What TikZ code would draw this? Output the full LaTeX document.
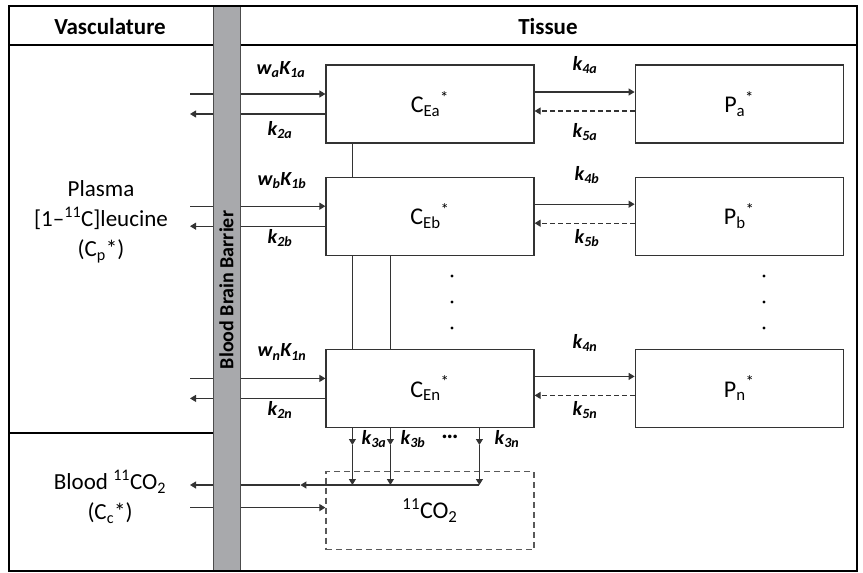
\documentclass[tikz,border=0pt]{standalone}
\usepackage{fontspec}
\setmainfont{Carlito}
\usetikzlibrary{positioning,arrows.meta,calc}
\definecolor{bbbgray}{HTML}{A8A9AC}
\definecolor{boxline}{HTML}{333333}

\begin{document}
\begin{tikzpicture}[
  x=1pt, y=-1pt,
  node distance=33pt,
  blk/.style={draw=boxline, line width=1.2pt, minimum height=78pt, minimum width=208pt,
              inner sep=0pt, font=\fontsize{24}{28}\selectfont},
  lbl/.style={font=\fontsize{20}{22}\selectfont\bfseries\itshape},
  txt/.style={font=\fontsize{23}{30}\selectfont, align=center},
  hdr/.style={font=\fontsize{23}{26}\selectfont\bfseries},
  flow/.style={->, line width=1.1pt, draw=boxline},
  back/.style={flow, dash pattern=on 5pt off 3pt},
  conn/.style={line width=1.1pt, draw=boxline},
  >={Triangle[length=6pt,width=7pt]}
]
\useasboundingbox (0,0) rectangle (863,573);

\node[blk] (ea) at (430,104) {C\textsubscript{Ea}\textsuperscript{*}};
\node[blk, right=100pt of ea] (pa) {P\textsubscript{a}\textsuperscript{*}};
\node[blk, below=33pt of ea] (eb) {C\textsubscript{Eb}\textsuperscript{*}};
\node[blk, right=100pt of eb] (pb) {P\textsubscript{b}\textsuperscript{*}};
\node[blk, below=93pt of eb] (en) {C\textsubscript{En}\textsuperscript{*}};
\node[blk, right=100pt of en] (pn) {P\textsubscript{n}\textsuperscript{*}};
\node[blk, draw=black!65, dash pattern=on 6pt off 4pt, below=43pt of en] (co2) {\textsuperscript{11}CO\textsubscript{2}};

\coordinate (lft) at (190,0);

% exchange with plasma
\draw[flow] ($(lft |- ea.west)+(0,-10)$) -- ($(ea.west)+(0,-10)$);
\draw[flow] ($(ea.west)+(0,10)$) -- ($(lft |- ea.west)+(0,10)$);
\draw[flow] ($(lft |- eb.west)+(0,-10)$) -- ($(eb.west)+(0,-10)$);
\draw[flow] ($(eb.west)+(0,10)$) -- ($(lft |- eb.west)+(0,10)$);
\draw[flow] ($(lft |- en.west)+(0,-10)$) -- ($(en.west)+(0,-10)$);
\draw[flow] ($(en.west)+(0,10)$) -- ($(lft |- en.west)+(0,10)$);

% incorporation into protein
\draw[flow] ($(ea.east)+(0,-12)$) -- ($(pa.west)+(0,-12)$);
\draw[back] ($(pa.west)+(0,7)$) -- ($(ea.east)+(0,7)$);
\draw[flow] ($(eb.east)+(0,-12)$) -- ($(pb.west)+(0,-12)$);
\draw[back] ($(pb.west)+(0,7)$) -- ($(eb.east)+(0,7)$);
\draw[flow] ($(en.east)+(0,-12)$) -- ($(pn.west)+(0,-12)$);
\draw[back] ($(pn.west)+(0,7)$) -- ($(en.east)+(0,7)$);

\draw[conn] ($(ea.south west)+(27,0)$) -- ($(eb.north west)+(27,0)$);
\draw[conn] ($(eb.south west)+(27,0)$) -- ($(en.north west)+(27,0)$);
\draw[conn] ($(eb.south west)+(65,0)$) -- ($(en.north west)+(65,0)$);

% oxidation to CO2
\draw[flow] ($(en.south west)+(27,0)$) -- ($(en.south west)+(27,17)$);
\draw[flow] ($(en.south west)+(27,17)$) -- ($(co2.north west)+(27,14)$);
\draw[flow] ($(en.south west)+(65,0)$) -- ($(en.south west)+(65,17)$);
\draw[flow] ($(en.south west)+(65,17)$) -- ($(co2.north west)+(65,14)$);
\draw[flow] ($(en.south west)+(154,0)$) -- ($(en.south west)+(154,17)$);
\draw[flow] ($(en.south west)+(154,17)$) -- ($(co2.north west)+(154,14)$);
\draw[flow] ($(co2.north west)+(154,14)$) -- ($(co2.north west)+(-25,14)$);
\draw[flow] ($(co2.north west)+(-25,14)$) -- ($(lft |- co2.north)+(0,14)$);
\draw[flow] ($(lft |- co2.west)+(0,-3)$) -- ($(co2.west)+(0,-3)$);

\fill (452,276) circle (1.6) (452,302) circle (1.6) (452,328) circle (1.6);
\fill (764,276) circle (1.6) (764,302) circle (1.6) (764,328) circle (1.6);

\node[lbl] at (281,70) {w\textsubscript{a}K\textsubscript{1a}};
\node[lbl] at (280,130) {k\textsubscript{2a}};
\node[lbl] at (282,181) {w\textsubscript{b}K\textsubscript{1b}};
\node[lbl] at (280,238) {k\textsubscript{2b}};
\node[lbl] at (282,352) {w\textsubscript{n}K\textsubscript{1n}};
\node[lbl] at (280,410) {k\textsubscript{2n}};
\node[lbl] at (585,65) {k\textsubscript{4a}};
\node[lbl] at (585,132) {k\textsubscript{5a}};
\node[lbl] at (587,175) {k\textsubscript{4b}};
\node[lbl] at (587,238) {k\textsubscript{5b}};
\node[lbl] at (585,343) {k\textsubscript{4n}};
\node[lbl] at (585,410) {k\textsubscript{5n}};
\node[lbl] at (374,439) {k\textsubscript{3a}};
\node[lbl] at (413,439) {k\textsubscript{3b}};
\node[lbl, font=\fontsize{24}{24}\selectfont\bfseries] at (450,437) {…};
\node[lbl] at (507,439) {k\textsubscript{3n}};

\draw[line width=2pt] (9,45) -- (857,45);
\draw[line width=2pt] (9,433) -- (213,433);
\draw[draw=black!70, fill=bbbgray, line width=1pt] (213,6) rectangle (240,571);
\node[rotate=90, font=\fontsize{20}{22}\selectfont\bfseries] (bbb) at (226.5,290) {Blood Brain Barrier};
\draw[line width=2.4pt] (9,6) rectangle (857,571);

\node[hdr] (vasc) at (110,27) {Vasculature};
\node[hdr] (tissue) at (548,27) {Tissue};
\node[txt] (plasma) at (101,222) {Plasma\\{[}1--\textsuperscript{11}C{]}leucine\\(C\textsubscript{p}*)};
\node[txt] (blood) at (110,497) {Blood \textsuperscript{11}CO\textsubscript{2}\\(C\textsubscript{c}*)};
\end{tikzpicture}
\end{document}
